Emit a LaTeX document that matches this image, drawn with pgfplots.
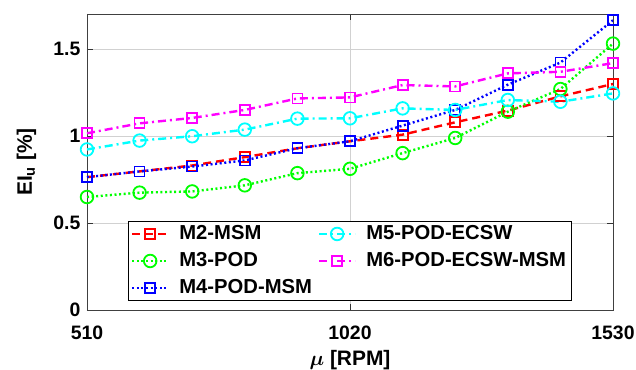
\documentclass[border=0pt]{standalone}
\usepackage{pgfplots}
\pgfplotsset{compat=1.18}
\usepackage{fontspec}
\setmainfont{Liberation Sans}
\definecolor{cR}{RGB}{255,0,0}
\definecolor{cG}{RGB}{0,255,0}
\definecolor{cB}{RGB}{0,0,255}
\definecolor{cC}{RGB}{0,255,255}
\definecolor{cM}{RGB}{255,0,255}
\pgfplotstableread{
x m2 m3 m4 m5 m6
510 0.763 0.649 0.763 0.922 1.015
612 0.796 0.674 0.796 0.973 1.072
714 0.830 0.681 0.824 0.998 1.103
816 0.878 0.716 0.859 1.036 1.149
918 0.929 0.786 0.929 1.099 1.215
1020 0.969 0.811 0.969 1.101 1.221
1122 1.007 0.901 1.059 1.158 1.292
1224 1.078 0.988 1.149 1.149 1.284
1326 1.145 1.139 1.294 1.206 1.359
1428 1.227 1.269 1.421 1.196 1.368
1530 1.298 1.530 1.664 1.244 1.418
}\data
\begin{document}
\fontsize{19.5}{23}\selectfont\bfseries
\begin{tikzpicture}
\path[use as bounding box] (-87bp,-60bp) rectangle (549bp,310bp);
\begin{axis}[
  at={(0,0)}, anchor=south west, scale only axis,
  width=526bp, height=296bp,
  xmin=510, xmax=1530, ymin=0, ymax=1.7,
  xtick={510,1020,1530}, ytick={0,0.5,1,1.5},
  /pgf/number format/assume math mode=true,
  /pgf/number format/1000 sep={},
  tick align=inside, tick pos=both,
  major tick length=6bp,
  tick style={black!80, line width=0.6bp},
  grid=major, grid style={black!18, line width=0.6bp},
  axis line style={black!75, line width=0.8bp},
  every tick label/.append style={font=\fontsize{19.5}{23}\selectfont\bfseries},
  xticklabel style={yshift=-9bp},
  label style={font=\fontsize{21}{25}\selectfont\bfseries},
  xlabel={{\boldmath$\mu$} [RPM]},
  ylabel={EI\textsubscript{u} [\%]},
  xlabel style={at={(0.5,-0.186)}, anchor=base},
  ylabel style={at={(-0.084,0.5)}, anchor=south},
  legend style={at={(0.499,0.031)}, anchor=south, draw=black, line width=0.6bp,
    font=\fontsize{20.3}{24}\selectfont\bfseries, fill=white,
    /tikz/every even column/.append style={column sep=4bp},
    /tikz/every odd column/.append style={column sep=8bp},
    inner xsep=3bp, inner ysep=2bp, row sep=6bp},
  legend columns=3, transpose legend,
  legend cell align=left,
  legend image code/.code={\draw[mark repeat=2,mark phase=2] plot coordinates {(0bp,0bp)(18bp,0bp)(36bp,0bp)};},
]
\addplot[cR, line width=2.4bp, dash pattern=on 8bp off 5bp, mark=square, mark size=5bp, mark options={solid, line width=1.8bp}] table[x=x,y=m2] {\data};
\addlegendentry{M2-MSM}
\addplot[cG, line width=2.4bp, dash pattern=on 2bp off 2.6bp, mark=o, mark size=6.3bp, mark options={solid, line width=1.8bp}] table[x=x,y=m3] {\data};
\addlegendentry{M3-POD}
\addplot[cB, line width=2.4bp, dash pattern=on 2bp off 2.6bp, mark=square, mark size=5bp, mark options={solid, line width=1.8bp}] table[x=x,y=m4] {\data};
\addlegendentry{M4-POD-MSM}
\addplot[cC, line width=2.4bp, dash pattern=on 8bp off 4bp on 2bp off 4bp, mark=o, mark size=6.3bp, mark options={solid, line width=1.8bp}] table[x=x,y=m5] {\data};
\addlegendentry{M5-POD-ECSW}
\addplot[cM, line width=2.4bp, dash pattern=on 8bp off 4bp on 2bp off 4bp, mark=square, mark size=5bp, mark options={solid, line width=1.8bp}] table[x=x,y=m6] {\data};
\addlegendentry{M6-POD-ECSW-MSM}
\end{axis}
\end{tikzpicture}
\end{document}
